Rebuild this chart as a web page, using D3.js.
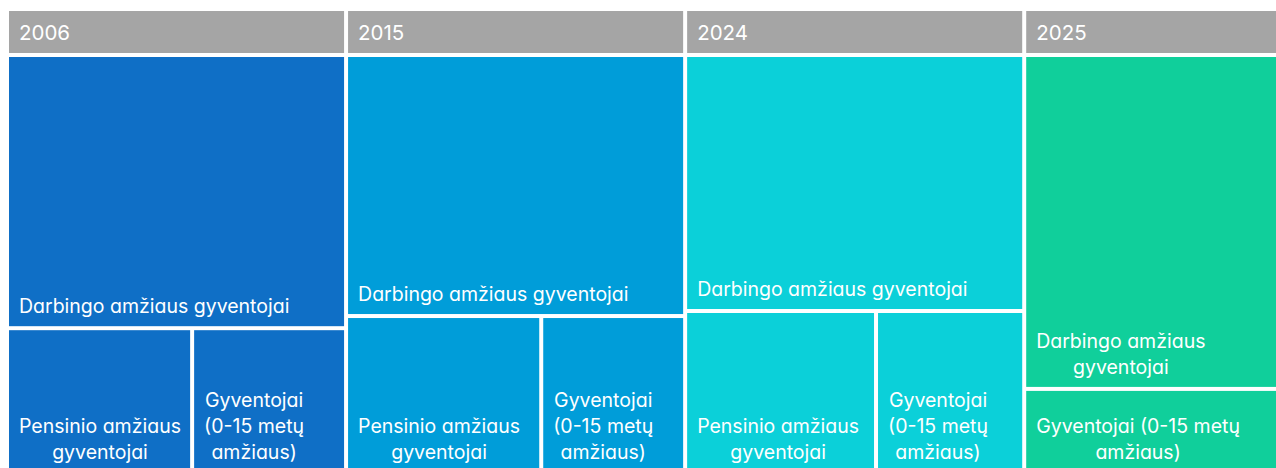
<!DOCTYPE html>
<html>
<head>
<meta charset="utf-8">
<script src="https://cdn.jsdelivr.net/npm/d3@7"></script>
<style>
  html, body { margin: 0; padding: 0; background: #fff; overflow: hidden; }
  svg { display: block; font-family: Inter, "Open Sans", sans-serif; font-feature-settings: "cv11"; }
</style>
</head>
<body>
<svg id="chart"></svg>
<script>
// chart data (shares of population, %)
var years = ['2006', '2015', '2024', '2025'];
var categories = ['Darbingo amžiaus gyventojai', 'Pensinio amžiaus gyventojai', 'Gyventojai (0-15 metų amžiaus)'];
var darbingo = [65.2, 62.3, 61.1, 62.0];
var pensinio = [19.0, 21.7, 21.9, null];
var vaikai = [15.8, 16.0, 17.0, 15.8];
var yearColors = ['#0F6FC6', '#009DD9', '#0BD0D9', '#10CF9B'];

(function () {
    var width = 1276, height = 468;
    var gap = 2, labelSize = 19.5, lineHeight = 26;

    var svg = d3.select('#chart')
        .attr('width', width)
        .attr('height', height);

    // build the hierarchy: year -> category
    var data = {
        name: 'root',
        children: years.map(function (y, i) {
            var vals = [darbingo[i], pensinio[i], vaikai[i]];
            return {
                name: y,
                index: i,
                children: categories
                    .map(function (c, j) { return { name: c, value: vals[j] }; })
                    .filter(function (d) { return d.value != null; })
            };
        })
    };

    var root = d3.hierarchy(data).sum(function (d) { return d.value || 0; });

    d3.treemap()
        .size([1281, 465])
        .paddingTop(function (d) { return d.depth === 1 ? 46 : 0; })
        .tile(d3.treemapSquarify.ratio(1))(root);

    var g = svg.append('g').attr('transform', 'translate(7,9)');

    // year banners
    var groups = g.selectAll('.group')
        .data(root.children)
        .enter().append('g')
            .attr('class', 'group');

    groups.append('rect')
        .attr('x', function (d) { return d.x0 + gap; })
        .attr('y', function (d) { return d.y0 + gap; })
        .attr('width', function (d) { return d.x1 - d.x0 - 2 * gap; })
        .attr('height', 42)
        .attr('fill', '#A5A5A5');

    groups.append('text')
        .attr('x', function (d) { return d.x0 + gap + 10; })
        .attr('y', function (d) { return d.y0 + gap + 29; })
        .attr('fill', '#fff')
        .style('font-size', '20.5px')
        .text(function (d) { return d.data.name; });

    // leaves
    var node = g.selectAll('.node')
        .data(root.leaves())
        .enter().append('g')
            .attr('class', 'node');

    node.append('rect')
        .attr('x', function (d) { return d.x0 + gap; })
        .attr('y', function (d) { return d.y0 + gap; })
        .attr('width', function (d) { return d.x1 - d.x0 - 2 * gap; })
        .attr('height', function (d) { return d.y1 - d.y0 - 2 * gap; })
        .attr('fill', function (d) { return yearColors[d.parent.data.index]; });

    // measuring helper for word wrap
    var probe = svg.append('text').style('font-size', labelSize + 'px').attr('opacity', 0);
    function measure(s) { probe.text(s); return probe.node().getComputedTextLength(); }

    node.each(function (d) {
        var maxW = d.x1 - d.x0 - 2 * gap - 12;
        var words = d.data.name.split(' '), lines = [], cur = '';
        words.forEach(function (w) {
            var test = cur ? cur + ' ' + w : w;
            if (cur && measure(test) > maxW) { lines.push(cur); cur = w; } else { cur = test; }
        });
        lines.push(cur);
        var widths = lines.map(measure);
        var blockW = d3.max(widths);
        var left = d.x0 + gap + 10;
        var lastBase = d.y1 - gap - 13;
        var t = d3.select(this).append('text')
            .attr('fill', '#fff')
            .style('font-size', labelSize + 'px');
        lines.forEach(function (l, k) {
            t.append('tspan')
                .attr('x', left + (blockW - widths[k]) / 2)
                .attr('y', lastBase - (lines.length - 1 - k) * lineHeight)
                .text(l);
        });
    });
    probe.remove();
}());
</script>
</body>
</html>
